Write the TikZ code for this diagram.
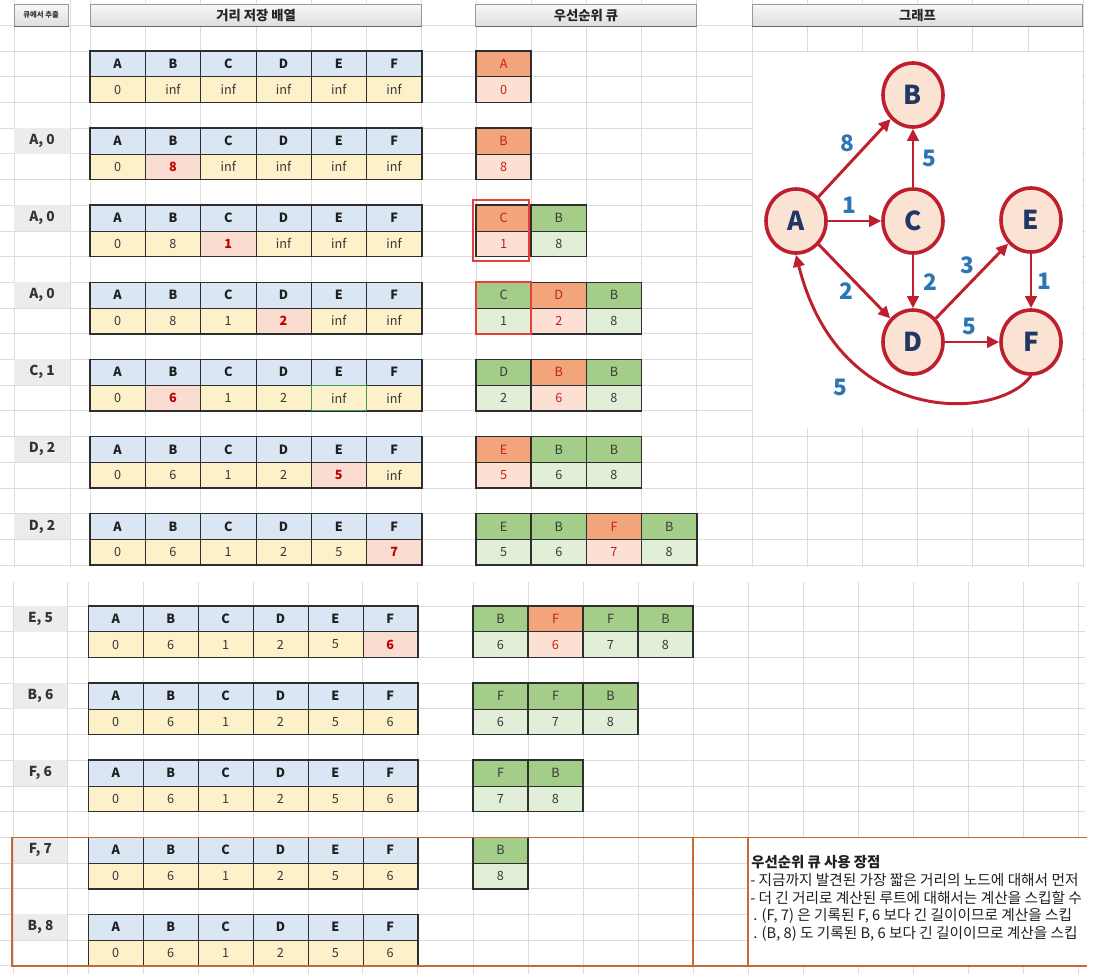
\documentclass[tikz,border=0pt]{standalone}
\usepackage{fontspec}
\setmainfont{Noto Sans CJK KR}
\usetikzlibrary{shapes.geometric,arrows.meta}

\definecolor{gridc}{HTML}{DCDCDC}
\definecolor{hdrblue}{HTML}{DAE6F4}
\definecolor{valyel}{HTML}{FDF1CA}
\definecolor{hipink}{HTML}{FADDD0}
\definecolor{redtxt}{HTML}{C00000}
\definecolor{qtopo}{HTML}{F2A57A}
\definecolor{qboto}{HTML}{FBE0D3}
\definecolor{qtopg}{HTML}{A3CD88}
\definecolor{qbotg}{HTML}{E1EFD9}
\definecolor{qtxto}{HTML}{C8201A}
\definecolor{qtxtg}{HTML}{3A3A3A}
\definecolor{lblgray}{HTML}{ECECEC}
\definecolor{borderc}{HTML}{2E2E2E}
\definecolor{orangebox}{HTML}{C46A32}
\definecolor{nodefill}{HTML}{FBE3D4}
\definecolor{nodedraw}{HTML}{BE1E2D}
\definecolor{nodetxt}{HTML}{1F3864}
\definecolor{wtxt}{HTML}{2E75B6}
\definecolor{redhlc}{HTML}{E5403A}
\definecolor{greenhl}{HTML}{3E9A5C}

% distance table: name, x0, ytop, cell width, values, highlighted index
\newcommand\dtab[6]{%
  \foreach \Lt [count=\i] in {A,B,C,D,E,F}{
    \pgfmathsetmacro\xa{#2+(\i-1)*#4}
    \fill[hdrblue] (\xa,#3) rectangle ++(#4,25.7);
    \node[hdrtxt] (#1h\i) at (\xa+#4/2,#3+12.85) {\Lt};
  }
  \foreach \vv [count=\i] in {#5}{
    \pgfmathsetmacro\xa{#2+(\i-1)*#4}
    \ifnum\i=#6\relax
      \fill[hipink] (\xa,#3+25.7) rectangle ++(#4,25.7);
      \node[hitxt] (#1v\i) at (\xa+#4/2,#3+38.55) {\vv};
    \else
      \fill[valyel] (\xa,#3+25.7) rectangle ++(#4,25.7);
      \node[celltxt] (#1v\i) at (\xa+#4/2,#3+38.55) {\vv};
    \fi
  }
  \foreach \i in {1,...,5}{\draw[innerl] (#2+\i*#4,#3) -- ++(0,51.4);}
  \draw[innerl] (#2,#3+25.7) -- ++(6*#4,0);
  \draw[outerl] (#2,#3) rectangle ++(6*#4,51.4);
}
% queue: name, x0, ytop, cell width, list letter/value/type
\newcommand\qtab[5]{%
  \foreach \Lt/\vv/\tp [count=\i] in {#5}{
    \pgfmathsetmacro\xa{#2+(\i-1)*#4}
    \fill[fill=qtop\tp] (\xa,#3) rectangle ++(#4,25.7);
    \fill[fill=qbot\tp] (\xa,#3+25.7) rectangle ++(#4,25.7);
    \node[celltxt, text=qtxt\tp] (#1h\i) at (\xa+#4/2,#3+12.85) {\Lt};
    \node[celltxt, text=qtxt\tp] (#1v\i) at (\xa+#4/2,#3+38.55) {\vv};
    \draw[innerl] (\xa,#3+25.7) -- ++(#4,0);
    \draw[outerl] (\xa,#3) rectangle ++(#4,51.4);
  }
}
% header box: name, x1, x2, text
\newcommand\hdrbox[4]{%
  \shade[top color=white!97!black, bottom color=black!13] (#2,4) rectangle (#3,26.5);
  \draw[black!40, line width=0.6pt] (#2,4) rectangle (#3,26.5);
  \draw[black!60, line width=0.9pt] (#2,26.5) -- (#3,26.5);
  \node[hdrlbl] (#1) at ({(#2+#3)/2},15.2) {#4};
}

\begin{document}
\begin{tikzpicture}[x=0.75pt,y=-0.75pt,
  gridl/.style={gridc, line width=0.55pt},
  celltxt/.style={font=\fontsize{9.5}{11}\selectfont, text=black!78, inner sep=0},
  hdrtxt/.style={celltxt, font=\fontsize{9.5}{11}\selectfont\bfseries, text=black!88},
  hitxt/.style={celltxt, font=\fontsize{9.5}{11}\selectfont\bfseries, text=redtxt},
  innerl/.style={borderc, line width=0.45pt},
  outerl/.style={borderc, line width=1.2pt},
  lbl/.style={font=\fontsize{10.3}{12}\selectfont\bfseries, text=black!80, inner sep=0},
  hdrlbl/.style={font=\fontsize{10}{12}\selectfont\bfseries, text=black!85, inner sep=0},
  gnode/.style={ellipse, draw=nodedraw, fill=nodefill, line width=2.7pt,
     minimum width=45pt, minimum height=48pt, inner sep=0,
     font=\fontsize{19.5}{22}\selectfont\bfseries, text=nodetxt},
  gedge/.style={nodedraw, line width=2.2pt, -{Triangle[length=9pt,width=8.5pt]}},
  wlbl/.style={font=\fontsize{17}{20}\selectfont\bfseries, text=wtxt, inner sep=0},
  redhl/.style={redhlc, line width=1.5pt},
  notetxt/.style={anchor=west, font=\fontsize{11}{13}\selectfont, text=black!88, inner sep=0},
]
\useasboundingbox (0,0) rectangle (1094,974);
\fill[white] (0,0) rectangle (1094,974);

% ---------- grid, top section ----------
\foreach \x in {14,70} \draw[gridl] (\x,0) -- (\x,567);
\foreach \k in {0,...,6} \draw[gridl] ({90+55.3*\k},0) -- ++(0,567);
\foreach \k in {0,...,11} \draw[gridl] ({476+55.2*\k},0) -- ++(0,567);
\foreach \j in {0,...,21} \draw[gridl] (0,{25.3+25.7*\j}) -- (1085,{25.3+25.7*\j});
% ---------- grid, bottom section ----------
\foreach \x in {13.3,67.7} \draw[gridl] (\x,581.5) -- (\x,974);
\foreach \k in {0,...,6} \draw[gridl] ({88.3+54.9*\k},581.5) -- ++(0,392.5);
\foreach \k in {0,...,11} \draw[gridl] ({473+55*\k},581.5) -- ++(0,392.5);
\foreach \j in {1,...,15} \draw[gridl] (0,{580.3+25.7*\j}) -- (1085,{580.3+25.7*\j});

% white areas (graph picture, note box)
\fill[white] (753,52) rectangle (1082.3,428);
\fill[white] (748.8,838) rectangle (1086,965);

% ---------- headers ----------
\shade[top color=white!97!black, bottom color=black!13] (14,4) rectangle (68.5,26.5);
\draw[black!40, line width=0.6pt] (14,4) rectangle (68.5,26.5);
\draw[black!60, line width=0.9pt] (14,26.5) -- (68.5,26.5);
\node[font=\fontsize{5.5}{6}\selectfont\bfseries, text=black!80, inner sep=0] (hq) at (41.2,15.2) {큐에서 추출};
\hdrbox{hd}{90.5}{421.8}{거리 저장 배열}
\hdrbox{hp}{475.5}{696.6}{우선순위 큐}
\hdrbox{hg}{752.3}{1082.7}{그래프}

% ---------- row labels ----------
\foreach \nm/\yy/\tx in {l2/128.1/{A, 0}, l3/205.2/{A, 0}, l4/282.3/{A, 0}, l5/359.4/{C, 1}, l6/436.5/{D, 2}, l7/513.6/{D, 2}}{
  \fill[lblgray] (14.3,\yy) rectangle (69.7,\yy+25.7);
  \node[lbl] (\nm) at (42,\yy+12.85) {\tx};
}
\foreach \nm/\yy/\tx in {l8/606/{E, 5}, l9/683.1/{B, 6}, l10/760.2/{F, 6}, l11/837.3/{F, 7}, l12/914.4/{B, 8}}{
  \fill[lblgray] (13.6,\yy) rectangle (67.4,\yy+25.7);
  \node[lbl] (\nm) at (40.5,\yy+12.85) {\tx};
}

% ---------- distance arrays ----------
\dtab{t1}{90}{51}{55.3}{0,inf,inf,inf,inf,inf}{0}
\dtab{t2}{90}{128.1}{55.3}{0,8,inf,inf,inf,inf}{2}
\dtab{t3}{90}{205.2}{55.3}{0,8,1,inf,inf,inf}{3}
\dtab{t4}{90}{282.3}{55.3}{0,8,1,2,inf,inf}{4}
\dtab{t5}{90}{359.4}{55.3}{0,6,1,2,inf,inf}{2}
\dtab{t6}{90}{436.5}{55.3}{0,6,1,2,5,inf}{5}
\dtab{t7}{90}{513.6}{55.3}{0,6,1,2,5,7}{6}
\dtab{t8}{88.3}{606}{54.9}{0,6,1,2,5,6}{6}
\dtab{t9}{88.3}{683.1}{54.9}{0,6,1,2,5,6}{0}
\dtab{t10}{88.3}{760.2}{54.9}{0,6,1,2,5,6}{0}
\dtab{t11}{88.3}{837.3}{54.9}{0,6,1,2,5,6}{0}
\dtab{t12}{88.3}{914.4}{54.9}{0,6,1,2,5,6}{0}
\draw[greenhl, line width=0.8pt] (311.2,385.1) rectangle (366.5,410.8);

% ---------- priority queues ----------
\qtab{q1}{476}{51}{55.2}{A/0/o}
\qtab{q2}{476}{128.1}{55.2}{B/8/o}
\qtab{q3}{476}{205.2}{55.2}{C/1/o,B/8/g}
\qtab{q4}{476}{282.3}{55.2}{C/1/g,D/2/o,B/8/g}
\qtab{q5}{476}{359.4}{55.2}{D/2/g,B/6/o,B/8/g}
\qtab{q6}{476}{436.5}{55.2}{E/5/o,B/6/g,B/8/g}
\qtab{q7}{476}{513.6}{55.2}{E/5/g,B/6/g,F/7/o,B/8/g}
\qtab{q8}{473}{606}{55}{B/6/g,F/6/o,F/7/g,B/8/g}
\qtab{q9}{473}{683.1}{55}{F/6/g,F/7/g,B/8/g}
\qtab{q10}{473}{760.2}{55}{F/7/g,B/8/g}
\qtab{q11}{473}{837.3}{55}{B/8/g}
\draw[redhl] (473,200) rectangle (529,261);
\draw[redhl] (476,282.3) rectangle (531.2,333.7);

% ---------- graph ----------
\node[gnode] (A) at (796,221) {A};
\node[gnode] (B) at (913,95) {B};
\node[gnode] (C) at (913,221) {C};
\node[gnode] (E) at (1031,220) {E};
\node[gnode] (D) at (913,342) {D};
\node[gnode] (F) at (1031,342) {F};
\draw[gedge] (A) -- (B);
\draw[gedge] (C) -- (B);
\draw[gedge] (A) -- (C);
\draw[gedge] (A) -- (D);
\draw[gedge] (C) -- (D);
\draw[gedge] (D) -- (E);
\draw[gedge] (E) -- (F);
\draw[gedge] (D) -- (F);
\draw[gedge] (F.south) .. controls (1000,420) and (840,430) .. (A.south);
\node[wlbl] (w1) at (847,143) {8};
\node[wlbl] (w2) at (929,158) {5};
\node[wlbl] (w3) at (849,205) {1};
\node[wlbl] (w4) at (846,291) {2};
\node[wlbl] (w5) at (930,282) {2};
\node[wlbl] (w6) at (967,265) {3};
\node[wlbl] (w7) at (1044,281) {1};
\node[wlbl] (w8) at (969,326) {5};
\node[wlbl] (w9) at (840,387) {5};

% ---------- orange box and note ----------
\draw[orangebox, line width=1.2pt] (1087,837.3) -- (12,837.3) -- (12,965.8) -- (1087,965.8);
\draw[orangebox, line width=1.2pt] (693,837.3) -- (693,965.8);
\draw[orangebox, line width=1.2pt] (748,837.3) -- (748,965.8);
\node[notetxt, font=\fontsize{10.8}{13}\selectfont\bfseries] (n0) at (751,862) {우선순위 큐 사용 장점};
\node[notetxt] (n1) at (750,880) {- 지금까지 발견된 가장 짧은 거리의 노드에 대해서 먼저};
\node[notetxt] (n2) at (750,898) {- 더 긴 거리로 계산된 루트에 대해서는 계산을 스킵할 수};
\node[notetxt] (n3) at (753,916) {. (F, 7) 은 기록된 F, 6 보다 긴 길이이므로 계산을 스킵};
\node[notetxt] (n4) at (753,934) {. (B, 8) 도 기록된 B, 6 보다 긴 길이이므로 계산을 스킵};
\end{tikzpicture}
\end{document}
